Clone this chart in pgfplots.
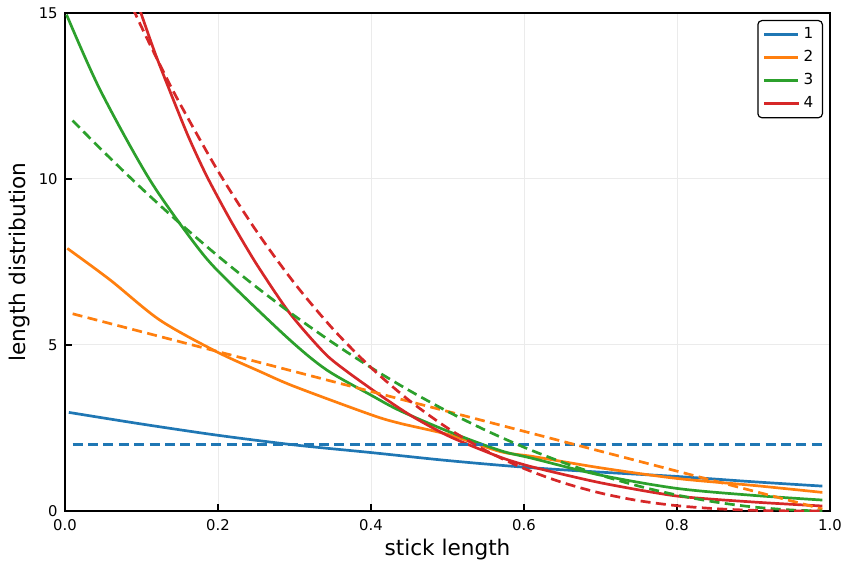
\documentclass[border=0pt]{standalone}
\usepackage{fontspec}
\setmainfont{DejaVu Sans}
\usepackage{pgfplots}
\pgfplotsset{compat=1.18}
\usetikzlibrary{calc}
\definecolor{c1}{HTML}{1F77B4}
\definecolor{c2}{HTML}{FF7F0E}
\definecolor{c3}{HTML}{2CA02C}
\definecolor{c4}{HTML}{D62728}
\begin{document}
\begin{tikzpicture}
\begin{axis}[
  scale only axis, width=382.5pt, height=249pt,
  xmin=0, xmax=1, ymin=0, ymax=15,
  xtick={0,0.2,0.4,0.6,0.8,1.0}, ytick={0,5,10,15},
  xticklabel style={/pgf/number format/fixed,/pgf/number format/fixed zerofill,/pgf/number format/precision=1},
  /pgf/number format/assume math mode=true,
  tick label style={font=\fontsize{7.4}{9}\selectfont, inner sep=0pt},
  xticklabel style={anchor=base, yshift=-9.6pt},
  yticklabel style={anchor=east, xshift=-3.5pt},
  tick pos=left, tick align=inside, major tick length=3.5pt,
  every tick/.style={black, line width=0.9pt},
  axis line style={line width=1pt},
  grid=major, major grid style={color=black!8, line width=0.5pt},
  xlabel={stick length}, ylabel={length distribution},
  label style={font=\fontsize{10.8}{12}\selectfont},
  xlabel style={at={(axis description cs:0.5,0)}, anchor=center, yshift=-19.5pt},
  ylabel style={at={(axis description cs:0,0.5)}, anchor=center, yshift=22.5pt},
  legend style={at={(1,1)}, anchor=north east, xshift=-3.5pt, yshift=-3.5pt,
    draw=black, line width=0.6pt, rounded corners=2pt, font=\fontsize{7.6}{9}\selectfont,
    inner xsep=2.5pt, inner ysep=1.5pt, row sep=0.4pt},
  legend cell align=left,
  every axis plot/.append style={line width=1.35pt},
]
\addplot[c1, smooth] coordinates {(0.005,2.97)(0.1,2.62)(0.2,2.28)(0.3,1.99)(0.4,1.76)(0.5,1.52)(0.6,1.32)(0.7,1.17)(0.8,1.04)(0.9,0.88)(0.99,0.75)};
\addlegendentry{1}
\addplot[c2, smooth] coordinates {(0.003,7.91)(0.059,6.96)(0.124,5.75)(0.198,4.80)(0.255,4.20)(0.3,3.75)(0.4,2.9)(0.438,2.64)(0.503,2.29)(0.569,1.79)(0.612,1.64)(0.7,1.3)(0.8,0.98)(0.9,0.77)(0.99,0.56)};
\addlegendentry{2}
\addplot[c3, smooth] coordinates {(0.002,14.95)(0.046,12.68)(0.111,9.97)(0.176,7.86)(0.216,6.86)(0.294,5.15)(0.342,4.25)(0.4,3.49)(0.438,3.02)(0.503,2.38)(0.569,1.82)(0.612,1.58)(0.7,1.08)(0.8,0.68)(0.9,0.47)(0.99,0.33)};
\addlegendentry{3}
\addplot[c4, smooth, tension=0.4] coordinates {(0.097,15.15)(0.12,13.65)(0.159,11.4)(0.185,10.1)(0.216,8.77)(0.25,7.45)(0.294,5.95)(0.344,4.65)(0.4,3.68)(0.451,2.89)(0.503,2.24)(0.569,1.62)(0.612,1.32)(0.7,0.85)(0.8,0.45)(0.9,0.27)(0.99,0.15)};
\addlegendentry{4}
\addplot[c1, dash pattern=on 5pt off 2.7pt, forget plot] coordinates {(0.01,2)(0.99,2)};
\addplot[c2, dash pattern=on 5pt off 2.7pt, forget plot] coordinates {(0.01,5.94)(0.5,3.0)(0.99,0.06)};
\addplot[c3, smooth, dash pattern=on 5pt off 2.7pt, forget plot] coordinates {(0.01,11.76)(0.05,10.83)(0.1,9.72)(0.15,8.67)(0.2,7.68)(0.25,6.75)(0.3,5.88)(0.35,5.07)(0.4,4.32)(0.45,3.63)(0.5,3.00)(0.55,2.43)(0.6,1.92)(0.65,1.47)(0.7,1.08)(0.75,0.75)(0.8,0.48)(0.85,0.27)(0.9,0.12)(0.95,0.03)(0.99,0.0012)};
\addplot[c4, smooth, dash pattern=on 5pt off 2.7pt, forget plot] coordinates {(0.01,19.41)(0.05,17.15)(0.075,15.83)(0.1,14.58)(0.125,13.40)(0.15,12.28)(0.2,10.24)(0.25,8.44)(0.3,6.86)(0.35,5.49)(0.4,4.32)(0.45,3.33)(0.5,2.5)(0.55,1.82)(0.6,1.28)(0.65,0.86)(0.7,0.54)(0.75,0.31)(0.8,0.16)(0.85,0.07)(0.9,0.02)(0.95,0.0025)(0.99,0)};
\end{axis}
\pgfresetboundingbox
\path ($(current axis.south west)+(-32.5pt,-27.5pt)$) rectangle ($(current axis.north east)+(6.5pt,6.5pt)$);
\end{tikzpicture}
\end{document}
